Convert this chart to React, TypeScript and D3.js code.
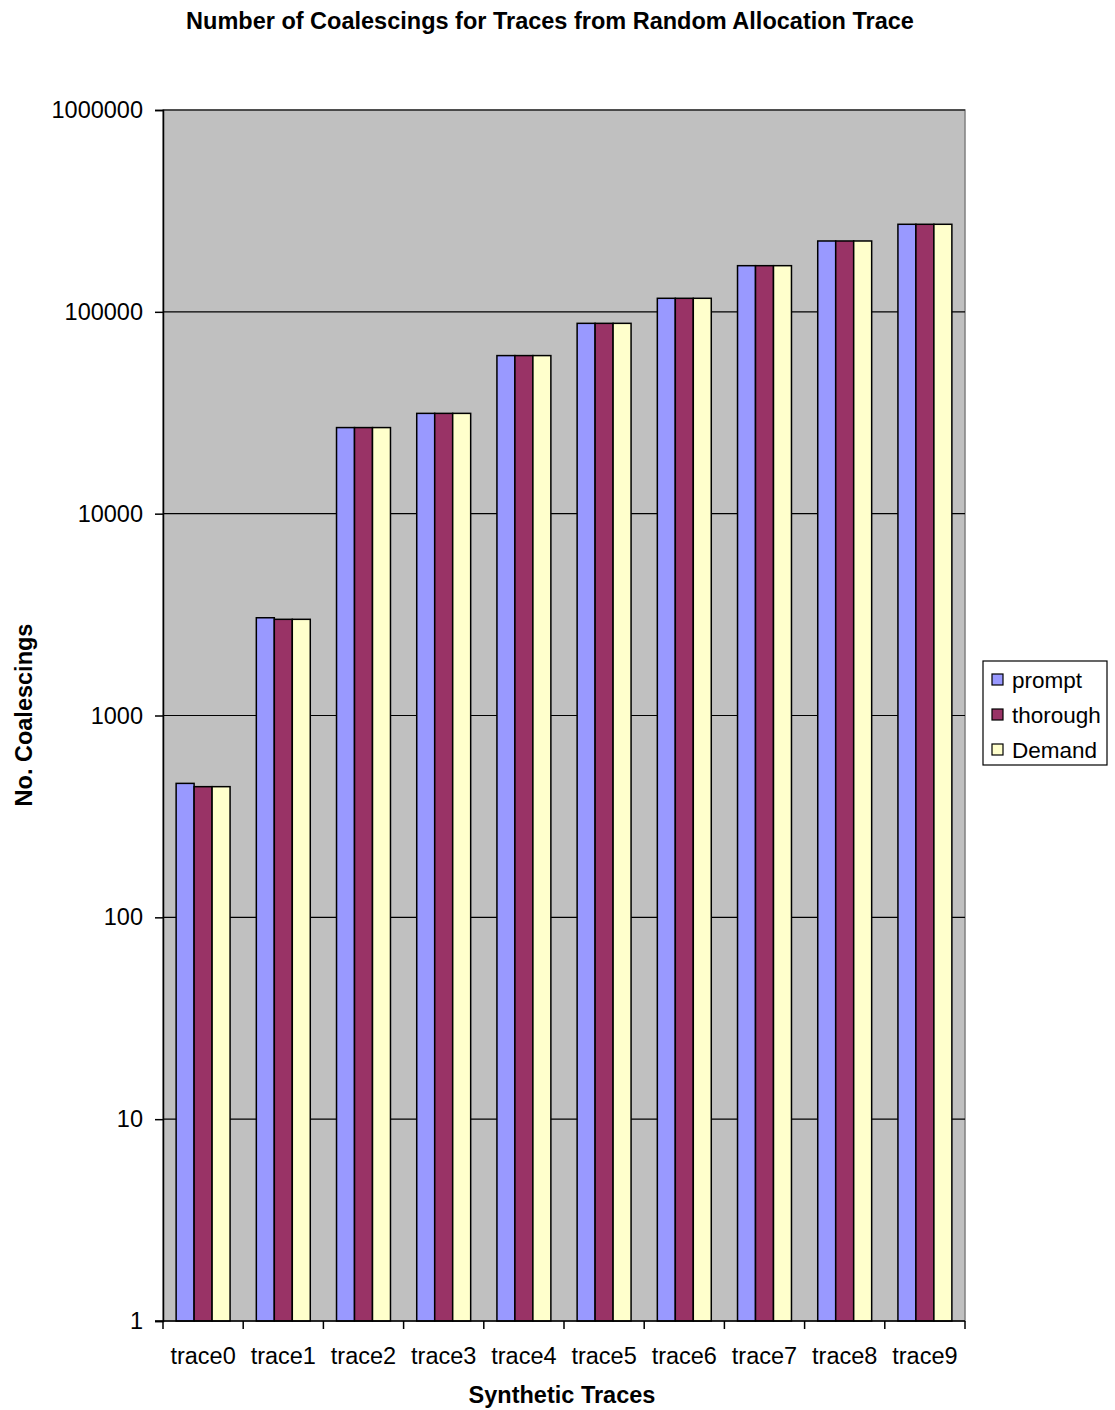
import React, { useRef, useEffect } from 'react';
import * as d3 from 'd3';

const traces = ['trace0', 'trace1', 'trace2', 'trace3', 'trace4', 'trace5', 'trace6', 'trace7', 'trace8', 'trace9'];
const seriesNames = ['prompt', 'thorough', 'Demand'];
const prompt = [461, 3050, 26700, 31400, 60700, 87700, 116700, 169300, 224400, 271500];
const thorough = [444, 2996, 26700, 31400, 60700, 87700, 116700, 169300, 224400, 271500];
const demand = [444, 2996, 26700, 31400, 60700, 87700, 116700, 169300, 224400, 271500];
const yTicks = [1, 10, 100, 1000, 10000, 100000, 1000000];

const COLORS: Record<string, string> = {
  prompt: '#9999FF',
  thorough: '#993366',
  Demand: '#FFFFCC',
};

const FONT = '"Liberation Sans", Arial, sans-serif';

export default function App() {
  const ref = useRef<SVGSVGElement | null>(null);

  useEffect(() => {
    const svg = d3.select(ref.current);
    svg.selectAll('*').remove();

    const W = 1115;
    const H = 1410;
    const plot = { left: 163, right: 965, top: 110, bottom: 1321 };

    const values: Record<string, number[]> = { prompt, thorough, Demand: demand };

    const x = d3.scaleBand().domain(traces).range([plot.left, plot.right]).padding(0);
    const x1 = d3.scaleBand().domain(seriesNames).range([0, x.bandwidth()]).paddingInner(0).paddingOuter(0.73);
    const y = d3.scaleLog().domain([1, 1000000]).range([plot.bottom, plot.top]);

    svg.attr('width', W).attr('height', H).style('font-family', FONT);

    // plot background
    svg.append('rect')
      .attr('x', plot.left)
      .attr('y', plot.top)
      .attr('width', plot.right - plot.left)
      .attr('height', plot.bottom - plot.top)
      .attr('fill', '#C0C0C0')
      .attr('stroke', '#808080')
      .attr('stroke-width', 1.5);

    // grid lines
    svg.append('g')
      .selectAll('line')
      .data(yTicks.slice(1))
      .join('line')
      .attr('x1', plot.left)
      .attr('x2', plot.right)
      .attr('y1', d => y(d))
      .attr('y2', d => y(d))
      .attr('stroke', '#000')
      .attr('stroke-width', 1.2);

    // bars
    traces.forEach((t, i) => {
      seriesNames.forEach(s => {
        const v = values[s][i];
        svg.append('rect')
          .attr('x', x(t)! + x1(s)!)
          .attr('y', y(v))
          .attr('width', x1.bandwidth())
          .attr('height', y(1) - y(v))
          .attr('fill', COLORS[s])
          .attr('stroke', '#000')
          .attr('stroke-width', 1.5);
      });
    });

    // y axis
    const yAxis = svg.append('g')
      .attr('transform', `translate(${plot.left},0)`)
      .call(d3.axisLeft(y).tickValues(yTicks).tickFormat(d => String(d)).tickSize(8).tickPadding(12));
    yAxis.select('.domain').attr('stroke', '#000').attr('stroke-width', 1.5);
    yAxis.selectAll('line').attr('stroke', '#000').attr('stroke-width', 1.5);
    yAxis.selectAll('text').attr('font-size', 23.5).attr('font-family', FONT).attr('fill', '#000');

    // x axis
    const xAxis = svg.append('g').attr('transform', `translate(0,${plot.bottom})`);
    xAxis.append('line')
      .attr('x1', plot.left - 8).attr('x2', plot.right)
      .attr('stroke', '#000').attr('stroke-width', 1.5);
    xAxis.selectAll('line.tick')
      .data(traces.concat(['end']))
      .join('line')
      .attr('class', 'tick')
      .attr('x1', (d, i) => plot.left + i * x.step())
      .attr('x2', (d, i) => plot.left + i * x.step())
      .attr('y1', 0)
      .attr('y2', 8)
      .attr('stroke', '#000')
      .attr('stroke-width', 1.5);
    xAxis.selectAll('text')
      .data(traces)
      .join('text')
      .attr('x', d => x(d)! + x.bandwidth() / 2)
      .attr('y', 43)
      .attr('text-anchor', 'middle')
      .attr('font-size', 23.5)
      .attr('fill', '#000')
      .text(d => d);

    // title
    svg.append('text')
      .attr('x', 550)
      .attr('y', 29)
      .attr('text-anchor', 'middle')
      .attr('font-size', 23.5)
      .attr('font-weight', 'bold')
      .text('Number of Coalescings for Traces from Random Allocation Trace');

    // x axis title
    svg.append('text')
      .attr('x', 562)
      .attr('y', 1403)
      .attr('text-anchor', 'middle')
      .attr('font-size', 23.5)
      .attr('font-weight', 'bold')
      .text('Synthetic Traces');

    // y axis title
    svg.append('text')
      .attr('transform', 'translate(32,715) rotate(-90)')
      .attr('text-anchor', 'middle')
      .attr('font-size', 23.5)
      .attr('font-weight', 'bold')
      .text('No. Coalescings');

    // legend
    const legend = svg.append('g').attr('transform', 'translate(983,661)');
    legend.append('rect')
      .attr('width', 124)
      .attr('height', 104)
      .attr('fill', '#fff')
      .attr('stroke', '#000')
      .attr('stroke-width', 1.2);
    seriesNames.forEach((s, i) => {
      const cy = 19 + i * 35;
      legend.append('rect')
        .attr('x', 9)
        .attr('y', cy - 6)
        .attr('width', 11)
        .attr('height', 11)
        .attr('fill', COLORS[s])
        .attr('stroke', '#000')
        .attr('stroke-width', 1.2);
      legend.append('text')
        .attr('x', 29)
        .attr('y', cy + 8)
        .attr('font-size', 22.5)
        .attr('fill', '#000')
        .text(s);
    });
  }, []);

  return <svg ref={ref} style={{ position: 'absolute', left: 0, top: 0, background: '#fff' }} />;
}
